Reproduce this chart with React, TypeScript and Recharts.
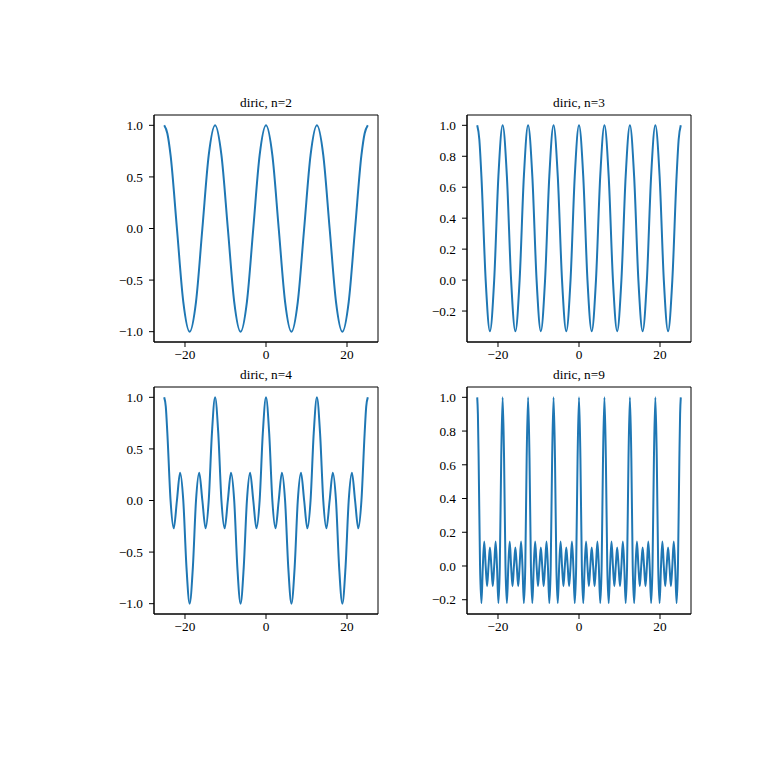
import React from 'react'
import { LineChart, Line, XAxis, YAxis, ReferenceArea } from 'recharts'

// sample positions and values
const n2X = [
  -25.13, -24.35, -23.56, -21.99, -20.42, -18.85, -17.28, -15.71, -14.14, -12.57, -11.0, -9.42, -7.85, -6.28, -4.71, -3.14, -1.57,
  0, 1.57, 3.14, 4.71, 6.28, 7.85, 9.42, 11.0, 12.57, 14.14, 15.71, 17.28, 18.85, 20.42, 21.99, 23.56, 24.35, 25.13
]
const n2Y = [
  1, 0.92, 0.71, 0, -0.71, -1, -0.71, 0, 0.71, 1, 0.71, 0, -0.71, -1, -0.71, 0, 0.71,
  1, 0.71, 0, -0.71, -1, -0.71, 0, 0.71, 1, 0.71, 0, -0.71, -1, -0.71, 0, 0.71, 0.92, 1
]

const n3X = [
  -25.13, -24.61, -24.09, -23.04, -21.99, -20.94, -19.9, -18.85, -17.8, -16.76, -15.71, -14.66, -13.61,
  -12.57, -11.52, -10.47, -9.42, -8.38, -7.33, -6.28, -5.24, -4.19, -3.14, -2.09, -1.05,
  0, 1.05, 2.09, 3.14, 4.19, 5.24, 6.28, 7.33, 8.38, 9.42, 10.47, 11.52,
  12.57, 13.61, 14.66, 15.71, 16.76, 17.8, 18.85, 19.9, 20.94, 21.99, 23.04, 24.09, 24.61, 25.13
]
const n3Y = [
  1, 0.91, 0.67, 0, -0.33, 0, 0.67, 1, 0.67, 0, -0.33, 0, 0.67,
  1, 0.67, 0, -0.33, 0, 0.67, 1, 0.67, 0, -0.33, 0, 0.67,
  1, 0.67, 0, -0.33, 0, 0.67, 1, 0.67, 0, -0.33, 0, 0.67,
  1, 0.67, 0, -0.33, 0, 0.67, 1, 0.67, 0, -0.33, 0, 0.67, 0.91, 1
]

const n4X = [
  -25.13, -24.74, -24.35, -23.56, -22.78, -21.99, -21.21, -20.42, -19.63, -18.85, -18.06, -17.28, -16.49, -15.71, -14.92, -14.14, -13.35,
  -12.57, -11.78, -11.0, -10.21, -9.42, -8.64, -7.85, -7.07, -6.28, -5.5, -4.71, -3.93, -3.14, -2.36, -1.57, -0.79,
  0, 0.79, 1.57, 2.36, 3.14, 3.93, 4.71, 5.5, 6.28, 7.07, 7.85, 8.64, 9.42, 10.21, 11.0, 11.78,
  12.57, 13.35, 14.14, 14.92, 15.71, 16.49, 17.28, 18.06, 18.85, 19.63, 20.42, 21.21, 21.99, 22.78, 23.56, 24.35, 24.74, 25.13
]
const n4Y = [
  1, 0.91, 0.65, 0, -0.27, 0, 0.27, 0, -0.65, -1, -0.65, 0, 0.27, 0, -0.27, 0, 0.65,
  1, 0.65, 0, -0.27, 0, 0.27, 0, -0.65, -1, -0.65, 0, 0.27, 0, -0.27, 0, 0.65,
  1, 0.65, 0, -0.27, 0, 0.27, 0, -0.65, -1, -0.65, 0, 0.27, 0, -0.27, 0, 0.65,
  1, 0.65, 0, -0.27, 0, 0.27, 0, -0.65, -1, -0.65, 0, 0.27, 0, -0.27, 0, 0.65, 0.91, 1
]

const n9X = [
  -25.13, -24.96, -24.78, -24.43, -24.09, -23.74, -23.39, -23.04, -22.69, -22.34, -21.99, -21.64, -21.29, -20.94, -20.59, -20.25, -19.9, -19.55, -19.2,
  -18.85, -18.5, -18.15, -17.8, -17.45, -17.1, -16.76, -16.41, -16.06, -15.71, -15.36, -15.01, -14.66, -14.31, -13.96, -13.61, -13.26, -12.92,
  -12.57, -12.22, -11.87, -11.52, -11.17, -10.82, -10.47, -10.12, -9.77, -9.42, -9.08, -8.73, -8.38, -8.03, -7.68, -7.33, -6.98, -6.63,
  -6.28, -5.93, -5.59, -5.24, -4.89, -4.54, -4.19, -3.84, -3.49, -3.14, -2.79, -2.44, -2.09, -1.75, -1.4, -1.05, -0.7, -0.35,
  0, 0.35, 0.7, 1.05, 1.4, 1.75, 2.09, 2.44, 2.79, 3.14, 3.49, 3.84, 4.19, 4.54, 4.89, 5.24, 5.59, 5.93,
  6.28, 6.63, 6.98, 7.33, 7.68, 8.03, 8.38, 8.73, 9.08, 9.42, 9.77, 10.12, 10.47, 10.82, 11.17, 11.52, 11.87, 12.22,
  12.57, 12.92, 13.26, 13.61, 13.96, 14.31, 14.66, 15.01, 15.36, 15.71, 16.06, 16.41, 16.76, 17.1, 17.45, 17.8, 18.15, 18.5,
  18.85, 19.2, 19.55, 19.9, 20.25, 20.59, 20.94, 21.29, 21.64, 21.99, 22.34, 22.69, 23.04, 23.39, 23.74, 24.09, 24.43, 24.78, 24.96, 25.13
]
const n9Y = [
  1, 0.9, 0.64, 0, -0.22, 0, 0.145, 0, -0.12, 0, 0.11, 0, -0.12, 0, 0.145, 0, -0.22, 0, 0.64,
  1, 0.64, 0, -0.22, 0, 0.145, 0, -0.12, 0, 0.11, 0, -0.12, 0, 0.145, 0, -0.22, 0, 0.64,
  1, 0.64, 0, -0.22, 0, 0.145, 0, -0.12, 0, 0.11, 0, -0.12, 0, 0.145, 0, -0.22, 0, 0.64,
  1, 0.64, 0, -0.22, 0, 0.145, 0, -0.12, 0, 0.11, 0, -0.12, 0, 0.145, 0, -0.22, 0, 0.64,
  1, 0.64, 0, -0.22, 0, 0.145, 0, -0.12, 0, 0.11, 0, -0.12, 0, 0.145, 0, -0.22, 0, 0.64,
  1, 0.64, 0, -0.22, 0, 0.145, 0, -0.12, 0, 0.11, 0, -0.12, 0, 0.145, 0, -0.22, 0, 0.64,
  1, 0.64, 0, -0.22, 0, 0.145, 0, -0.12, 0, 0.11, 0, -0.12, 0, 0.145, 0, -0.22, 0, 0.64,
  1, 0.64, 0, -0.22, 0, 0.145, 0, -0.12, 0, 0.11, 0, -0.12, 0, 0.145, 0, -0.22, 0, 0.64, 0.9, 1
]

const xTicks = [-20, 0, 20]
const halfTicks = [-1, -0.5, 0, 0.5, 1]
const fifthTicks = [-0.2, 0, 0.2, 0.4, 0.6, 0.8, 1]

const FONT = "'Liberation Serif', 'Times New Roman', serif"
const X_DOMAIN = [-27.65, 27.65]

const fmtX = (v: number) => (v < 0 ? '\u2212' + Math.abs(v) : String(v))
const fmtY = (v: number) => (v < 0 ? '\u2212' : '') + Math.abs(v).toFixed(1)

function Panel({ title, xs, ys, yDomain, yTicks, left, top }) {
  const data = xs.map((x, i) => ({ x, y: ys[i] }))
  const plotW = 224
  const plotH = 227
  const axisW = 50
  const axisH = 30
  const m = { top: 30, right: 10, bottom: 5, left: 10 }
  const width = m.left + axisW + plotW + m.right
  const height = m.top + plotH + axisH + m.bottom
  const tickStyle = { fill: '#000', fontSize: 13.3, fontFamily: FONT }
  return (
    <div style={{ position: 'absolute', left: left - m.left - axisW, top: top - m.top, width, height }}>
      <svg
        width={plotW}
        height={24}
        style={{ position: 'absolute', left: m.left + axisW, top: m.top - 24 }}
      >
        <text x={plotW / 2} y={24 - 8.3} textAnchor='middle' fontFamily={FONT} fontSize={13.3} fill='#000'>
          {title}
        </text>
      </svg>
      <LineChart width={width} height={height} data={data} margin={m}>
        <XAxis
          dataKey='x'
          type='number'
          domain={X_DOMAIN}
          ticks={xTicks}
          interval={0}
          tickFormatter={fmtX}
          tickSize={5}
          tickMargin={2.5}
          height={axisH}
          stroke='#000'
          tick={tickStyle}
          allowDataOverflow
        />
        <YAxis
          type='number'
          domain={yDomain}
          ticks={yTicks}
          interval={0}
          tickFormatter={fmtY}
          width={axisW}
          tickSize={5}
          tickMargin={6}
          stroke='#000'
          tick={tickStyle}
          allowDataOverflow
        />
        <ReferenceArea
          x1={X_DOMAIN[0]}
          x2={X_DOMAIN[1]}
          y1={yDomain[0]}
          y2={yDomain[1]}
          fill='none'
          fillOpacity={0}
          stroke='#000'
          strokeWidth={1}
          ifOverflow='visible'
        />
        <Line
          dataKey='y'
          type='monotone'
          stroke='#1f77b4'
          strokeWidth={2}
          dot={false}
          isAnimationActive={false}
        />
      </LineChart>
    </div>
  )
}

export default function App() {
  return (
    <div style={{ position: 'absolute', left: 0, top: 0, width: 768, height: 768, background: '#fff' }}>
      <Panel title='diric, n=2' xs={n2X} ys={n2Y} yDomain={[-1.1, 1.1]} yTicks={halfTicks} left={154.3} top={115} />
      <Panel title='diric, n=3' xs={n3X} ys={n3Y} yDomain={[-0.4, 1.0667]} yTicks={fifthTicks} left={467.3} top={115} />
      <Panel title='diric, n=4' xs={n4X} ys={n4Y} yDomain={[-1.1, 1.1]} yTicks={halfTicks} left={154.3} top={387.3} />
      <Panel title='diric, n=9' xs={n9X} ys={n9Y} yDomain={[-0.2846, 1.0612]} yTicks={fifthTicks} left={467.3} top={387.3} />
    </div>
  )
}
